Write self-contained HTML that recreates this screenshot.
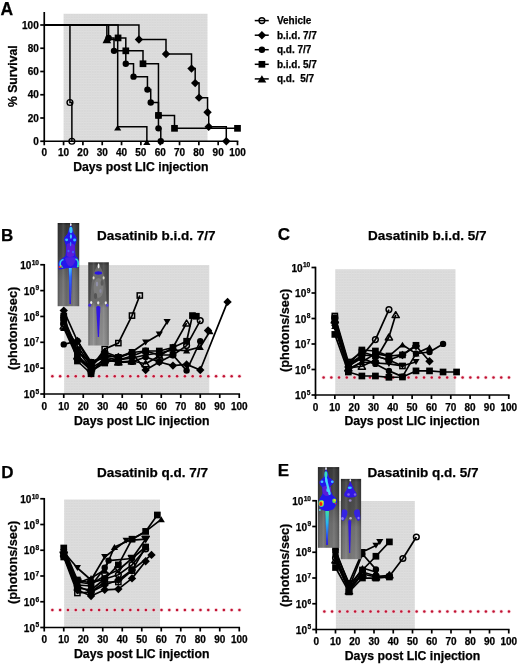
<!DOCTYPE html>
<html><head><meta charset="utf-8"><style>
html,body{margin:0;padding:0;background:#fff;}
svg{display:block;will-change:transform;}
text{font-family:"Liberation Sans", sans-serif;font-weight:bold;fill:#000;stroke:#000;stroke-width:0.25px;}
</style></head><body>
<svg width="520" height="666" viewBox="0 0 520 666">
<defs>
<pattern id="dotpat" width="2.6" height="2.6" patternUnits="userSpaceOnUse">
<rect width="2.6" height="2.6" fill="#d8d8d8"/><rect width="2.6" height="0.9" fill="#e0e0e0"/><rect width="0.9" height="2.6" fill="#dcdcdc"/>
</pattern>
</defs>
<rect x="63.575" y="13.75" width="143.925" height="127.5" fill="url(#dotpat)"/>
<text x="0.40" y="15.40" font-size="17.5" text-anchor="start" >A</text>
<text x="0" y="0" font-size="12.2" text-anchor="middle" transform="translate(17.40,76.20) rotate(-90)">% Survival</text>
<text x="140.88" y="171.20" font-size="12.25" text-anchor="middle" >Days post LIC injection</text>
<line x1="44.25" y1="12" x2="44.25" y2="142.05" stroke="#000" stroke-width="1.7"/>
<line x1="40.25" y1="141.25" x2="44.25" y2="141.25" stroke="#000" stroke-width="1.7"/>
<text x="38.75" y="144.85" font-size="10" text-anchor="end" >0</text>
<line x1="40.25" y1="118.00" x2="44.25" y2="118.00" stroke="#000" stroke-width="1.7"/>
<text x="38.75" y="121.60" font-size="10" text-anchor="end" >20</text>
<line x1="40.25" y1="94.75" x2="44.25" y2="94.75" stroke="#000" stroke-width="1.7"/>
<text x="38.75" y="98.35" font-size="10" text-anchor="end" >40</text>
<line x1="40.25" y1="71.50" x2="44.25" y2="71.50" stroke="#000" stroke-width="1.7"/>
<text x="38.75" y="75.10" font-size="10" text-anchor="end" >60</text>
<line x1="40.25" y1="48.25" x2="44.25" y2="48.25" stroke="#000" stroke-width="1.7"/>
<text x="38.75" y="51.85" font-size="10" text-anchor="end" >80</text>
<line x1="40.25" y1="25.00" x2="44.25" y2="25.00" stroke="#000" stroke-width="1.7"/>
<text x="38.75" y="28.60" font-size="10" text-anchor="end" >100</text>
<line x1="43.45" y1="141.25" x2="238.30" y2="141.25" stroke="#000" stroke-width="1.7"/>
<line x1="44.25" y1="141.25" x2="44.25" y2="145.25" stroke="#000" stroke-width="1.7"/>
<text x="44.25" y="156.00" font-size="10" text-anchor="middle" >0</text>
<line x1="63.58" y1="141.25" x2="63.58" y2="145.25" stroke="#000" stroke-width="1.7"/>
<text x="63.58" y="156.00" font-size="10" text-anchor="middle" >10</text>
<line x1="82.90" y1="141.25" x2="82.90" y2="145.25" stroke="#000" stroke-width="1.7"/>
<text x="82.90" y="156.00" font-size="10" text-anchor="middle" >20</text>
<line x1="102.22" y1="141.25" x2="102.22" y2="145.25" stroke="#000" stroke-width="1.7"/>
<text x="102.22" y="156.00" font-size="10" text-anchor="middle" >30</text>
<line x1="121.55" y1="141.25" x2="121.55" y2="145.25" stroke="#000" stroke-width="1.7"/>
<text x="121.55" y="156.00" font-size="10" text-anchor="middle" >40</text>
<line x1="140.88" y1="141.25" x2="140.88" y2="145.25" stroke="#000" stroke-width="1.7"/>
<text x="140.88" y="156.00" font-size="10" text-anchor="middle" >50</text>
<line x1="160.20" y1="141.25" x2="160.20" y2="145.25" stroke="#000" stroke-width="1.7"/>
<text x="160.20" y="156.00" font-size="10" text-anchor="middle" >60</text>
<line x1="179.53" y1="141.25" x2="179.53" y2="145.25" stroke="#000" stroke-width="1.7"/>
<text x="179.53" y="156.00" font-size="10" text-anchor="middle" >70</text>
<line x1="198.85" y1="141.25" x2="198.85" y2="145.25" stroke="#000" stroke-width="1.7"/>
<text x="198.85" y="156.00" font-size="10" text-anchor="middle" >80</text>
<line x1="218.18" y1="141.25" x2="218.18" y2="145.25" stroke="#000" stroke-width="1.7"/>
<text x="218.18" y="156.00" font-size="10" text-anchor="middle" >90</text>
<line x1="237.50" y1="141.25" x2="237.50" y2="145.25" stroke="#000" stroke-width="1.7"/>
<text x="237.50" y="156.00" font-size="10" text-anchor="middle" >100</text>
<path d="M44.25,25.00 H138.94 V39.53 H166.00 V54.06 H191.51 V68.59 H195.18 V83.12 H199.04 V97.66 H207.55 V112.19 H208.71 V126.72 H226.29 V141.25" fill="none" stroke="#000" stroke-width="1.5"/>
<path d="M44.25,25.00 H118.07 V37.92 H125.80 V50.83 H143.00 V63.75 H158.46 V115.42 H174.50 V128.33 H237.50" fill="none" stroke="#000" stroke-width="1.5"/>
<path d="M44.25,25.00 H108.60 V37.92 H114.01 V50.83 H125.80 V63.75 H133.53 V76.67 H147.45 V89.58 H150.73 V102.50 H158.46 V115.42 H158.46 V128.33 H160.78 V141.25" fill="none" stroke="#000" stroke-width="1.5"/>
<path d="M44.25,25.00 H106.86 V39.53 H117.69 V126.72 H146.87 V141.25" fill="none" stroke="#000" stroke-width="1.5"/>
<path d="M44.25,25.00 H69.95 V102.50 H71.88 V141.25" fill="none" stroke="#000" stroke-width="1.5"/>
<circle cx="69.95" cy="102.50" r="2.90" fill="none" stroke="#000" stroke-width="1.4"/>
<circle cx="71.88" cy="141.25" r="2.90" fill="none" stroke="#000" stroke-width="1.4"/>
<polygon points="138.94,35.33 143.14,39.53 138.94,43.73 134.74,39.53" fill="#000"/>
<polygon points="166.00,49.86 170.20,54.06 166.00,58.26 161.80,54.06" fill="#000"/>
<polygon points="191.51,64.39 195.71,68.59 191.51,72.79 187.31,68.59" fill="#000"/>
<polygon points="195.18,78.92 199.38,83.12 195.18,87.33 190.98,83.12" fill="#000"/>
<polygon points="199.04,93.46 203.24,97.66 199.04,101.86 194.84,97.66" fill="#000"/>
<polygon points="207.55,107.99 211.75,112.19 207.55,116.39 203.35,112.19" fill="#000"/>
<polygon points="208.71,122.52 212.91,126.72 208.71,130.92 204.51,126.72" fill="#000"/>
<polygon points="226.29,137.05 230.49,141.25 226.29,145.45 222.09,141.25" fill="#000"/>
<circle cx="108.60" cy="37.92" r="3.20" fill="#000"/>
<circle cx="114.01" cy="50.83" r="3.20" fill="#000"/>
<circle cx="125.80" cy="63.75" r="3.20" fill="#000"/>
<circle cx="133.53" cy="76.67" r="3.20" fill="#000"/>
<circle cx="147.45" cy="89.58" r="3.20" fill="#000"/>
<circle cx="150.73" cy="102.50" r="3.20" fill="#000"/>
<circle cx="158.46" cy="115.42" r="3.20" fill="#000"/>
<circle cx="158.46" cy="128.33" r="3.20" fill="#000"/>
<circle cx="160.78" cy="141.25" r="3.20" fill="#000"/>
<rect x="114.72" y="34.57" width="6.70" height="6.70" fill="#000"/>
<rect x="122.45" y="47.48" width="6.70" height="6.70" fill="#000"/>
<rect x="139.65" y="60.40" width="6.70" height="6.70" fill="#000"/>
<rect x="155.11" y="112.07" width="6.70" height="6.70" fill="#000"/>
<rect x="171.15" y="124.98" width="6.70" height="6.70" fill="#000"/>
<rect x="234.15" y="124.98" width="6.70" height="6.70" fill="#000"/>
<polygon points="106.86,34.73 111.16,43.13 102.56,43.13" fill="#000"/>
<polygon points="117.69,125.02 121.28,130.42 114.09,130.42" fill="#000"/>
<polygon points="146.87,139.55 150.47,144.95 143.27,144.95" fill="#000"/>
<line x1="254.75" y1="20.6" x2="268.75" y2="20.6" stroke="#000" stroke-width="1.5"/>
<circle cx="261.90" cy="20.60" r="2.90" fill="none" stroke="#000" stroke-width="1.4"/>
<text x="276.90" y="24.00" font-size="10" text-anchor="start" >Vehicle</text>
<line x1="254.75" y1="35.2" x2="268.75" y2="35.2" stroke="#000" stroke-width="1.5"/>
<polygon points="261.90,31.00 266.10,35.20 261.90,39.40 257.70,35.20" fill="#000"/>
<text x="276.90" y="38.60" font-size="10" text-anchor="start" >b.i.d. 7/7</text>
<line x1="254.75" y1="49.7" x2="268.75" y2="49.7" stroke="#000" stroke-width="1.5"/>
<circle cx="261.90" cy="49.70" r="3.20" fill="#000"/>
<text x="276.90" y="53.10" font-size="10" text-anchor="start" >q.d. 7/7</text>
<line x1="254.75" y1="64.3" x2="268.75" y2="64.3" stroke="#000" stroke-width="1.5"/>
<rect x="258.55" y="60.95" width="6.70" height="6.70" fill="#000"/>
<text x="276.90" y="67.70" font-size="10" text-anchor="start" >b.i.d. 5/7</text>
<line x1="254.75" y1="78.9" x2="268.75" y2="78.9" stroke="#000" stroke-width="1.5"/>
<polygon points="261.90,75.24 266.29,82.44 257.51,82.44" fill="#000"/>
<text x="276.90" y="82.30" font-size="10" text-anchor="start" >q.d.&#160;&#160;5/7</text>
<rect x="64.15" y="265" width="145.1" height="129" fill="url(#dotpat)"/>
<circle cx="52.35" cy="376.20" r="2.1" fill="#f6c0cc" opacity="0.6"/>
<circle cx="52.35" cy="376.20" r="1.25" fill="#c01232"/>
<circle cx="60.15" cy="376.20" r="2.1" fill="#f6c0cc" opacity="0.6"/>
<circle cx="60.15" cy="376.20" r="1.25" fill="#c01232"/>
<circle cx="67.94" cy="376.20" r="2.1" fill="#f6c0cc" opacity="0.6"/>
<circle cx="67.94" cy="376.20" r="1.25" fill="#c01232"/>
<circle cx="75.74" cy="376.20" r="2.1" fill="#f6c0cc" opacity="0.6"/>
<circle cx="75.74" cy="376.20" r="1.25" fill="#c01232"/>
<circle cx="83.53" cy="376.20" r="2.1" fill="#f6c0cc" opacity="0.6"/>
<circle cx="83.53" cy="376.20" r="1.25" fill="#c01232"/>
<circle cx="91.33" cy="376.20" r="2.1" fill="#f6c0cc" opacity="0.6"/>
<circle cx="91.33" cy="376.20" r="1.25" fill="#c01232"/>
<circle cx="99.12" cy="376.20" r="2.1" fill="#f6c0cc" opacity="0.6"/>
<circle cx="99.12" cy="376.20" r="1.25" fill="#c01232"/>
<circle cx="106.92" cy="376.20" r="2.1" fill="#f6c0cc" opacity="0.6"/>
<circle cx="106.92" cy="376.20" r="1.25" fill="#c01232"/>
<circle cx="114.72" cy="376.20" r="2.1" fill="#f6c0cc" opacity="0.6"/>
<circle cx="114.72" cy="376.20" r="1.25" fill="#c01232"/>
<circle cx="122.51" cy="376.20" r="2.1" fill="#f6c0cc" opacity="0.6"/>
<circle cx="122.51" cy="376.20" r="1.25" fill="#c01232"/>
<circle cx="130.31" cy="376.20" r="2.1" fill="#f6c0cc" opacity="0.6"/>
<circle cx="130.31" cy="376.20" r="1.25" fill="#c01232"/>
<circle cx="138.10" cy="376.20" r="2.1" fill="#f6c0cc" opacity="0.6"/>
<circle cx="138.10" cy="376.20" r="1.25" fill="#c01232"/>
<circle cx="145.90" cy="376.20" r="2.1" fill="#f6c0cc" opacity="0.6"/>
<circle cx="145.90" cy="376.20" r="1.25" fill="#c01232"/>
<circle cx="153.70" cy="376.20" r="2.1" fill="#f6c0cc" opacity="0.6"/>
<circle cx="153.70" cy="376.20" r="1.25" fill="#c01232"/>
<circle cx="161.49" cy="376.20" r="2.1" fill="#f6c0cc" opacity="0.6"/>
<circle cx="161.49" cy="376.20" r="1.25" fill="#c01232"/>
<circle cx="169.29" cy="376.20" r="2.1" fill="#f6c0cc" opacity="0.6"/>
<circle cx="169.29" cy="376.20" r="1.25" fill="#c01232"/>
<circle cx="177.08" cy="376.20" r="2.1" fill="#f6c0cc" opacity="0.6"/>
<circle cx="177.08" cy="376.20" r="1.25" fill="#c01232"/>
<circle cx="184.88" cy="376.20" r="2.1" fill="#f6c0cc" opacity="0.6"/>
<circle cx="184.88" cy="376.20" r="1.25" fill="#c01232"/>
<circle cx="192.67" cy="376.20" r="2.1" fill="#f6c0cc" opacity="0.6"/>
<circle cx="192.67" cy="376.20" r="1.25" fill="#c01232"/>
<circle cx="200.47" cy="376.20" r="2.1" fill="#f6c0cc" opacity="0.6"/>
<circle cx="200.47" cy="376.20" r="1.25" fill="#c01232"/>
<circle cx="208.27" cy="376.20" r="2.1" fill="#f6c0cc" opacity="0.6"/>
<circle cx="208.27" cy="376.20" r="1.25" fill="#c01232"/>
<circle cx="216.06" cy="376.20" r="2.1" fill="#f6c0cc" opacity="0.6"/>
<circle cx="216.06" cy="376.20" r="1.25" fill="#c01232"/>
<circle cx="223.86" cy="376.20" r="2.1" fill="#f6c0cc" opacity="0.6"/>
<circle cx="223.86" cy="376.20" r="1.25" fill="#c01232"/>
<circle cx="231.65" cy="376.20" r="2.1" fill="#f6c0cc" opacity="0.6"/>
<circle cx="231.65" cy="376.20" r="1.25" fill="#c01232"/>
<circle cx="239.45" cy="376.20" r="2.1" fill="#f6c0cc" opacity="0.6"/>
<circle cx="239.45" cy="376.20" r="1.25" fill="#c01232"/>
<line x1="44.25" y1="263.95" x2="44.25" y2="394.80" stroke="#000" stroke-width="1.7"/>
<line x1="40.25" y1="264.75" x2="44.25" y2="264.75" stroke="#000" stroke-width="1.7"/>
<text x="31.41" y="268.85" font-size="10.1" text-anchor="end">10</text>
<text x="39.05" y="264.55" font-size="6.6" text-anchor="end">10</text>
<line x1="40.25" y1="290.60" x2="44.25" y2="290.60" stroke="#000" stroke-width="1.7"/>
<text x="35.08" y="294.70" font-size="10.1" text-anchor="end">10</text>
<text x="39.05" y="290.40" font-size="6.6" text-anchor="end">9</text>
<line x1="40.25" y1="316.45" x2="44.25" y2="316.45" stroke="#000" stroke-width="1.7"/>
<text x="35.08" y="320.55" font-size="10.1" text-anchor="end">10</text>
<text x="39.05" y="316.25" font-size="6.6" text-anchor="end">8</text>
<line x1="40.25" y1="342.30" x2="44.25" y2="342.30" stroke="#000" stroke-width="1.7"/>
<text x="35.08" y="346.40" font-size="10.1" text-anchor="end">10</text>
<text x="39.05" y="342.10" font-size="6.6" text-anchor="end">7</text>
<line x1="40.25" y1="368.15" x2="44.25" y2="368.15" stroke="#000" stroke-width="1.7"/>
<text x="35.08" y="372.25" font-size="10.1" text-anchor="end">10</text>
<text x="39.05" y="367.95" font-size="6.6" text-anchor="end">6</text>
<line x1="40.25" y1="394.00" x2="44.25" y2="394.00" stroke="#000" stroke-width="1.7"/>
<text x="35.08" y="398.10" font-size="10.1" text-anchor="end">10</text>
<text x="39.05" y="393.80" font-size="6.6" text-anchor="end">5</text>
<line x1="43.45" y1="394.00" x2="240.05" y2="394.00" stroke="#000" stroke-width="1.7"/>
<line x1="44.25" y1="394.00" x2="44.25" y2="398.00" stroke="#000" stroke-width="1.7"/>
<text x="44.25" y="409.80" font-size="10" text-anchor="middle" >0</text>
<line x1="63.75" y1="394.00" x2="63.75" y2="398.00" stroke="#000" stroke-width="1.7"/>
<text x="63.75" y="409.80" font-size="10" text-anchor="middle" >10</text>
<line x1="83.25" y1="394.00" x2="83.25" y2="398.00" stroke="#000" stroke-width="1.7"/>
<text x="83.25" y="409.80" font-size="10" text-anchor="middle" >20</text>
<line x1="102.75" y1="394.00" x2="102.75" y2="398.00" stroke="#000" stroke-width="1.7"/>
<text x="102.75" y="409.80" font-size="10" text-anchor="middle" >30</text>
<line x1="122.25" y1="394.00" x2="122.25" y2="398.00" stroke="#000" stroke-width="1.7"/>
<text x="122.25" y="409.80" font-size="10" text-anchor="middle" >40</text>
<line x1="141.75" y1="394.00" x2="141.75" y2="398.00" stroke="#000" stroke-width="1.7"/>
<text x="141.75" y="409.80" font-size="10" text-anchor="middle" >50</text>
<line x1="161.25" y1="394.00" x2="161.25" y2="398.00" stroke="#000" stroke-width="1.7"/>
<text x="161.25" y="409.80" font-size="10" text-anchor="middle" >60</text>
<line x1="180.75" y1="394.00" x2="180.75" y2="398.00" stroke="#000" stroke-width="1.7"/>
<text x="180.75" y="409.80" font-size="10" text-anchor="middle" >70</text>
<line x1="200.25" y1="394.00" x2="200.25" y2="398.00" stroke="#000" stroke-width="1.7"/>
<text x="200.25" y="409.80" font-size="10" text-anchor="middle" >80</text>
<line x1="219.75" y1="394.00" x2="219.75" y2="398.00" stroke="#000" stroke-width="1.7"/>
<text x="219.75" y="409.80" font-size="10" text-anchor="middle" >90</text>
<line x1="239.25" y1="394.00" x2="239.25" y2="398.00" stroke="#000" stroke-width="1.7"/>
<text x="239.25" y="409.80" font-size="10" text-anchor="middle" >100</text>
<text x="1.00" y="240.60" font-size="17" text-anchor="start" >B</text>
<text x="97.00" y="239.80" font-size="13.5" text-anchor="start" >Dasatinib b.i.d. 7/7</text>
<text x="0" y="0" font-size="12.7" text-anchor="middle" transform="translate(16.50,328.40) rotate(-90)">(photons/sec)</text>
<text x="141.75" y="424.50" font-size="12.25" text-anchor="middle" >Days post LIC injection</text>
<path d="M63.75,310.60 L77.40,341.00 L91.05,365.00 L104.70,352.00 L118.35,357.00 L132.00,353.00 L145.65,370.00 L159.30,362.00 L172.95,365.60 L186.60,364.40 L200.25,370.00 L227.55,301.90" fill="none" stroke="#000" stroke-width="1.7" stroke-linejoin="round"/>
<path d="M63.75,318.00 L77.40,350.00 L91.05,368.00 L104.70,349.00 L118.35,343.10 L132.00,315.60 L139.80,295.50" fill="none" stroke="#000" stroke-width="1.7" stroke-linejoin="round"/>
<path d="M63.75,320.00 L77.40,352.00 L91.05,362.00 L104.70,356.00 L118.35,357.00 L132.00,352.00 L145.65,342.50 L159.30,334.40 L167.10,321.90" fill="none" stroke="#000" stroke-width="1.7" stroke-linejoin="round"/>
<path d="M63.75,316.00 L77.40,361.00 L91.05,373.75 L104.70,357.00 L118.35,360.00 L132.00,356.00 L145.65,351.00 L159.30,351.00 L172.95,347.50 L186.60,341.25 L192.45,315.60 L196.35,316.25" fill="none" stroke="#000" stroke-width="1.7" stroke-linejoin="round"/>
<path d="M63.75,324.00 L77.40,346.00 L91.05,366.00 L104.70,354.00 L118.35,358.00 L132.00,352.50 L145.65,351.00 L159.30,355.00 L172.95,355.00 L186.60,345.60 L200.25,320.60" fill="none" stroke="#000" stroke-width="1.7" stroke-linejoin="round"/>
<path d="M63.75,326.00 L77.40,356.00 L91.05,368.00 L104.70,360.00 L118.35,362.00 L132.00,361.00 L145.65,363.75 L159.30,356.00 L172.95,347.50 L186.60,323.10" fill="none" stroke="#000" stroke-width="1.7" stroke-linejoin="round"/>
<path d="M63.75,344.40 L77.40,341.00 L91.05,362.00 L104.70,358.00 L118.35,362.50 L132.00,361.90 L145.65,357.00 L159.30,361.90 L172.95,355.00 L186.60,370.60 L200.25,341.25" fill="none" stroke="#000" stroke-width="1.7" stroke-linejoin="round"/>
<path d="M63.75,328.00 L77.40,358.00 L91.05,370.00 L104.70,362.00 L118.35,360.00 L132.00,358.00 L145.65,355.00 L159.30,353.00 L172.95,350.00 L186.60,350.60 L200.25,347.00 L210.00,331.25" fill="none" stroke="#000" stroke-width="1.7" stroke-linejoin="round"/>
<path d="M63.75,322.00 L77.40,355.00 L91.05,371.00 L104.70,363.00 L118.35,358.00" fill="none" stroke="#000" stroke-width="1.7" stroke-linejoin="round"/>
<path d="M208.05,330.50" fill="none" stroke="#000" stroke-width="1.7" stroke-linejoin="round"/>
<polygon points="63.75,306.40 67.95,310.60 63.75,314.80 59.55,310.60" fill="#000"/>
<polygon points="77.40,336.80 81.60,341.00 77.40,345.20 73.20,341.00" fill="#000"/>
<polygon points="91.05,360.80 95.25,365.00 91.05,369.20 86.85,365.00" fill="#000"/>
<polygon points="104.70,347.80 108.90,352.00 104.70,356.20 100.50,352.00" fill="#000"/>
<polygon points="118.35,352.80 122.55,357.00 118.35,361.20 114.15,357.00" fill="#000"/>
<polygon points="132.00,348.80 136.20,353.00 132.00,357.20 127.80,353.00" fill="#000"/>
<polygon points="145.65,365.80 149.85,370.00 145.65,374.20 141.45,370.00" fill="#000"/>
<polygon points="159.30,357.80 163.50,362.00 159.30,366.20 155.10,362.00" fill="#000"/>
<polygon points="172.95,361.40 177.15,365.60 172.95,369.80 168.75,365.60" fill="#000"/>
<polygon points="186.60,360.20 190.80,364.40 186.60,368.60 182.40,364.40" fill="#000"/>
<polygon points="200.25,365.80 204.45,370.00 200.25,374.20 196.05,370.00" fill="#000"/>
<polygon points="227.55,297.70 231.75,301.90 227.55,306.10 223.35,301.90" fill="#000"/>
<rect x="61.15" y="315.40" width="5.20" height="5.20" fill="none" stroke="#000" stroke-width="1.5"/>
<rect x="74.80" y="347.40" width="5.20" height="5.20" fill="none" stroke="#000" stroke-width="1.5"/>
<rect x="88.45" y="365.40" width="5.20" height="5.20" fill="none" stroke="#000" stroke-width="1.5"/>
<rect x="102.10" y="346.40" width="5.20" height="5.20" fill="none" stroke="#000" stroke-width="1.5"/>
<rect x="115.75" y="340.50" width="5.20" height="5.20" fill="none" stroke="#000" stroke-width="1.5"/>
<rect x="129.40" y="313.00" width="5.20" height="5.20" fill="none" stroke="#000" stroke-width="1.5"/>
<rect x="137.20" y="292.90" width="5.20" height="5.20" fill="none" stroke="#000" stroke-width="1.5"/>
<polygon points="63.75,323.00 67.35,317.10 60.15,317.10" fill="#000"/>
<polygon points="77.40,355.00 81.00,349.10 73.80,349.10" fill="#000"/>
<polygon points="91.05,365.00 94.65,359.10 87.45,359.10" fill="#000"/>
<polygon points="104.70,359.00 108.30,353.10 101.10,353.10" fill="#000"/>
<polygon points="118.35,360.00 121.95,354.10 114.75,354.10" fill="#000"/>
<polygon points="132.00,355.00 135.60,349.10 128.40,349.10" fill="#000"/>
<polygon points="145.65,345.50 149.25,339.60 142.05,339.60" fill="#000"/>
<polygon points="159.30,337.40 162.90,331.50 155.70,331.50" fill="#000"/>
<polygon points="167.10,324.90 170.70,319.00 163.50,319.00" fill="#000"/>
<rect x="60.40" y="312.65" width="6.70" height="6.70" fill="#000"/>
<rect x="74.05" y="357.65" width="6.70" height="6.70" fill="#000"/>
<rect x="87.70" y="370.40" width="6.70" height="6.70" fill="#000"/>
<rect x="101.35" y="353.65" width="6.70" height="6.70" fill="#000"/>
<rect x="115.00" y="356.65" width="6.70" height="6.70" fill="#000"/>
<rect x="128.65" y="352.65" width="6.70" height="6.70" fill="#000"/>
<rect x="142.30" y="347.65" width="6.70" height="6.70" fill="#000"/>
<rect x="155.95" y="347.65" width="6.70" height="6.70" fill="#000"/>
<rect x="169.60" y="344.15" width="6.70" height="6.70" fill="#000"/>
<rect x="183.25" y="337.90" width="6.70" height="6.70" fill="#000"/>
<rect x="189.10" y="312.25" width="6.70" height="6.70" fill="#000"/>
<rect x="193.00" y="312.90" width="6.70" height="6.70" fill="#000"/>
<circle cx="63.75" cy="324.00" r="2.85" fill="none" stroke="#000" stroke-width="1.5"/>
<circle cx="77.40" cy="346.00" r="2.85" fill="none" stroke="#000" stroke-width="1.5"/>
<circle cx="91.05" cy="366.00" r="2.85" fill="none" stroke="#000" stroke-width="1.5"/>
<circle cx="104.70" cy="354.00" r="2.85" fill="none" stroke="#000" stroke-width="1.5"/>
<circle cx="118.35" cy="358.00" r="2.85" fill="none" stroke="#000" stroke-width="1.5"/>
<circle cx="132.00" cy="352.50" r="2.85" fill="none" stroke="#000" stroke-width="1.5"/>
<circle cx="145.65" cy="351.00" r="2.85" fill="none" stroke="#000" stroke-width="1.5"/>
<circle cx="159.30" cy="355.00" r="2.85" fill="none" stroke="#000" stroke-width="1.5"/>
<circle cx="172.95" cy="355.00" r="2.85" fill="none" stroke="#000" stroke-width="1.5"/>
<circle cx="186.60" cy="345.60" r="2.85" fill="none" stroke="#000" stroke-width="1.5"/>
<circle cx="200.25" cy="320.60" r="2.85" fill="none" stroke="#000" stroke-width="1.5"/>
<polygon points="63.75,323.00 67.35,328.90 60.15,328.90" fill="none" stroke="#000" stroke-width="1.5" stroke-linejoin="round"/>
<polygon points="77.40,353.00 81.00,358.90 73.80,358.90" fill="none" stroke="#000" stroke-width="1.5" stroke-linejoin="round"/>
<polygon points="91.05,365.00 94.65,370.90 87.45,370.90" fill="none" stroke="#000" stroke-width="1.5" stroke-linejoin="round"/>
<polygon points="104.70,357.00 108.30,362.90 101.10,362.90" fill="none" stroke="#000" stroke-width="1.5" stroke-linejoin="round"/>
<polygon points="118.35,359.00 121.95,364.90 114.75,364.90" fill="none" stroke="#000" stroke-width="1.5" stroke-linejoin="round"/>
<polygon points="132.00,358.00 135.60,363.90 128.40,363.90" fill="none" stroke="#000" stroke-width="1.5" stroke-linejoin="round"/>
<polygon points="145.65,360.75 149.25,366.65 142.05,366.65" fill="none" stroke="#000" stroke-width="1.5" stroke-linejoin="round"/>
<polygon points="159.30,353.00 162.90,358.90 155.70,358.90" fill="none" stroke="#000" stroke-width="1.5" stroke-linejoin="round"/>
<polygon points="172.95,344.50 176.55,350.40 169.35,350.40" fill="none" stroke="#000" stroke-width="1.5" stroke-linejoin="round"/>
<polygon points="186.60,320.10 190.20,326.00 183.00,326.00" fill="none" stroke="#000" stroke-width="1.5" stroke-linejoin="round"/>
<circle cx="63.75" cy="344.40" r="3.20" fill="#000"/>
<circle cx="77.40" cy="341.00" r="3.20" fill="#000"/>
<circle cx="91.05" cy="362.00" r="3.20" fill="#000"/>
<circle cx="104.70" cy="358.00" r="3.20" fill="#000"/>
<circle cx="118.35" cy="362.50" r="3.20" fill="#000"/>
<circle cx="132.00" cy="361.90" r="3.20" fill="#000"/>
<circle cx="145.65" cy="357.00" r="3.20" fill="#000"/>
<circle cx="159.30" cy="361.90" r="3.20" fill="#000"/>
<circle cx="172.95" cy="355.00" r="3.20" fill="#000"/>
<circle cx="186.60" cy="370.60" r="3.20" fill="#000"/>
<circle cx="200.25" cy="341.25" r="3.20" fill="#000"/>
<polygon points="63.75,325.00 67.35,330.90 60.15,330.90" fill="#000"/>
<polygon points="77.40,355.00 81.00,360.90 73.80,360.90" fill="#000"/>
<polygon points="91.05,367.00 94.65,372.90 87.45,372.90" fill="#000"/>
<polygon points="104.70,359.00 108.30,364.90 101.10,364.90" fill="#000"/>
<polygon points="118.35,357.00 121.95,362.90 114.75,362.90" fill="#000"/>
<polygon points="132.00,355.00 135.60,360.90 128.40,360.90" fill="#000"/>
<polygon points="145.65,352.00 149.25,357.90 142.05,357.90" fill="#000"/>
<polygon points="159.30,350.00 162.90,355.90 155.70,355.90" fill="#000"/>
<polygon points="172.95,347.00 176.55,352.90 169.35,352.90" fill="#000"/>
<polygon points="186.60,347.60 190.20,353.50 183.00,353.50" fill="#000"/>
<polygon points="200.25,344.00 203.85,349.90 196.65,349.90" fill="#000"/>
<polygon points="210.00,328.25 213.60,334.15 206.40,334.15" fill="#000"/>
<rect x="60.40" y="318.65" width="6.70" height="6.70" fill="#000"/>
<rect x="74.05" y="351.65" width="6.70" height="6.70" fill="#000"/>
<rect x="87.70" y="367.65" width="6.70" height="6.70" fill="#000"/>
<rect x="101.35" y="359.65" width="6.70" height="6.70" fill="#000"/>
<rect x="115.00" y="354.65" width="6.70" height="6.70" fill="#000"/>
<polygon points="208.05,326.30 212.25,330.50 208.05,334.70 203.85,330.50" fill="#000"/>
<rect x="335.22499999999997" y="269.25" width="120.27500000000003" height="125.75" fill="url(#dotpat)"/>
<circle cx="323.60" cy="377.50" r="2.1" fill="#f6c0cc" opacity="0.6"/>
<circle cx="323.60" cy="377.50" r="1.25" fill="#c01232"/>
<circle cx="331.32" cy="377.50" r="2.1" fill="#f6c0cc" opacity="0.6"/>
<circle cx="331.32" cy="377.50" r="1.25" fill="#c01232"/>
<circle cx="339.05" cy="377.50" r="2.1" fill="#f6c0cc" opacity="0.6"/>
<circle cx="339.05" cy="377.50" r="1.25" fill="#c01232"/>
<circle cx="346.77" cy="377.50" r="2.1" fill="#f6c0cc" opacity="0.6"/>
<circle cx="346.77" cy="377.50" r="1.25" fill="#c01232"/>
<circle cx="354.49" cy="377.50" r="2.1" fill="#f6c0cc" opacity="0.6"/>
<circle cx="354.49" cy="377.50" r="1.25" fill="#c01232"/>
<circle cx="362.21" cy="377.50" r="2.1" fill="#f6c0cc" opacity="0.6"/>
<circle cx="362.21" cy="377.50" r="1.25" fill="#c01232"/>
<circle cx="369.94" cy="377.50" r="2.1" fill="#f6c0cc" opacity="0.6"/>
<circle cx="369.94" cy="377.50" r="1.25" fill="#c01232"/>
<circle cx="377.66" cy="377.50" r="2.1" fill="#f6c0cc" opacity="0.6"/>
<circle cx="377.66" cy="377.50" r="1.25" fill="#c01232"/>
<circle cx="385.38" cy="377.50" r="2.1" fill="#f6c0cc" opacity="0.6"/>
<circle cx="385.38" cy="377.50" r="1.25" fill="#c01232"/>
<circle cx="393.11" cy="377.50" r="2.1" fill="#f6c0cc" opacity="0.6"/>
<circle cx="393.11" cy="377.50" r="1.25" fill="#c01232"/>
<circle cx="400.83" cy="377.50" r="2.1" fill="#f6c0cc" opacity="0.6"/>
<circle cx="400.83" cy="377.50" r="1.25" fill="#c01232"/>
<circle cx="408.55" cy="377.50" r="2.1" fill="#f6c0cc" opacity="0.6"/>
<circle cx="408.55" cy="377.50" r="1.25" fill="#c01232"/>
<circle cx="416.28" cy="377.50" r="2.1" fill="#f6c0cc" opacity="0.6"/>
<circle cx="416.28" cy="377.50" r="1.25" fill="#c01232"/>
<circle cx="424.00" cy="377.50" r="2.1" fill="#f6c0cc" opacity="0.6"/>
<circle cx="424.00" cy="377.50" r="1.25" fill="#c01232"/>
<circle cx="431.72" cy="377.50" r="2.1" fill="#f6c0cc" opacity="0.6"/>
<circle cx="431.72" cy="377.50" r="1.25" fill="#c01232"/>
<circle cx="439.44" cy="377.50" r="2.1" fill="#f6c0cc" opacity="0.6"/>
<circle cx="439.44" cy="377.50" r="1.25" fill="#c01232"/>
<circle cx="447.17" cy="377.50" r="2.1" fill="#f6c0cc" opacity="0.6"/>
<circle cx="447.17" cy="377.50" r="1.25" fill="#c01232"/>
<circle cx="454.89" cy="377.50" r="2.1" fill="#f6c0cc" opacity="0.6"/>
<circle cx="454.89" cy="377.50" r="1.25" fill="#c01232"/>
<circle cx="462.61" cy="377.50" r="2.1" fill="#f6c0cc" opacity="0.6"/>
<circle cx="462.61" cy="377.50" r="1.25" fill="#c01232"/>
<circle cx="470.34" cy="377.50" r="2.1" fill="#f6c0cc" opacity="0.6"/>
<circle cx="470.34" cy="377.50" r="1.25" fill="#c01232"/>
<circle cx="478.06" cy="377.50" r="2.1" fill="#f6c0cc" opacity="0.6"/>
<circle cx="478.06" cy="377.50" r="1.25" fill="#c01232"/>
<circle cx="485.78" cy="377.50" r="2.1" fill="#f6c0cc" opacity="0.6"/>
<circle cx="485.78" cy="377.50" r="1.25" fill="#c01232"/>
<circle cx="493.50" cy="377.50" r="2.1" fill="#f6c0cc" opacity="0.6"/>
<circle cx="493.50" cy="377.50" r="1.25" fill="#c01232"/>
<circle cx="501.23" cy="377.50" r="2.1" fill="#f6c0cc" opacity="0.6"/>
<circle cx="501.23" cy="377.50" r="1.25" fill="#c01232"/>
<circle cx="508.95" cy="377.50" r="2.1" fill="#f6c0cc" opacity="0.6"/>
<circle cx="508.95" cy="377.50" r="1.25" fill="#c01232"/>
<line x1="315.50" y1="266.70" x2="315.50" y2="395.80" stroke="#000" stroke-width="1.7"/>
<line x1="311.50" y1="267.50" x2="315.50" y2="267.50" stroke="#000" stroke-width="1.7"/>
<text x="302.66" y="271.60" font-size="10.1" text-anchor="end">10</text>
<text x="310.30" y="267.30" font-size="6.6" text-anchor="end">10</text>
<line x1="311.50" y1="293.00" x2="315.50" y2="293.00" stroke="#000" stroke-width="1.7"/>
<text x="306.33" y="297.10" font-size="10.1" text-anchor="end">10</text>
<text x="310.30" y="292.80" font-size="6.6" text-anchor="end">9</text>
<line x1="311.50" y1="318.50" x2="315.50" y2="318.50" stroke="#000" stroke-width="1.7"/>
<text x="306.33" y="322.60" font-size="10.1" text-anchor="end">10</text>
<text x="310.30" y="318.30" font-size="6.6" text-anchor="end">8</text>
<line x1="311.50" y1="344.00" x2="315.50" y2="344.00" stroke="#000" stroke-width="1.7"/>
<text x="306.33" y="348.10" font-size="10.1" text-anchor="end">10</text>
<text x="310.30" y="343.80" font-size="6.6" text-anchor="end">7</text>
<line x1="311.50" y1="369.50" x2="315.50" y2="369.50" stroke="#000" stroke-width="1.7"/>
<text x="306.33" y="373.60" font-size="10.1" text-anchor="end">10</text>
<text x="310.30" y="369.30" font-size="6.6" text-anchor="end">6</text>
<line x1="311.50" y1="395.00" x2="315.50" y2="395.00" stroke="#000" stroke-width="1.7"/>
<text x="306.33" y="399.10" font-size="10.1" text-anchor="end">10</text>
<text x="310.30" y="394.80" font-size="6.6" text-anchor="end">5</text>
<line x1="314.70" y1="395.00" x2="509.55" y2="395.00" stroke="#000" stroke-width="1.7"/>
<line x1="315.50" y1="395.00" x2="315.50" y2="399.00" stroke="#000" stroke-width="1.7"/>
<text x="315.50" y="410.80" font-size="10" text-anchor="middle" >0</text>
<line x1="334.82" y1="395.00" x2="334.82" y2="399.00" stroke="#000" stroke-width="1.7"/>
<text x="334.82" y="410.80" font-size="10" text-anchor="middle" >10</text>
<line x1="354.15" y1="395.00" x2="354.15" y2="399.00" stroke="#000" stroke-width="1.7"/>
<text x="354.15" y="410.80" font-size="10" text-anchor="middle" >20</text>
<line x1="373.48" y1="395.00" x2="373.48" y2="399.00" stroke="#000" stroke-width="1.7"/>
<text x="373.48" y="410.80" font-size="10" text-anchor="middle" >30</text>
<line x1="392.80" y1="395.00" x2="392.80" y2="399.00" stroke="#000" stroke-width="1.7"/>
<text x="392.80" y="410.80" font-size="10" text-anchor="middle" >40</text>
<line x1="412.12" y1="395.00" x2="412.12" y2="399.00" stroke="#000" stroke-width="1.7"/>
<text x="412.12" y="410.80" font-size="10" text-anchor="middle" >50</text>
<line x1="431.45" y1="395.00" x2="431.45" y2="399.00" stroke="#000" stroke-width="1.7"/>
<text x="431.45" y="410.80" font-size="10" text-anchor="middle" >60</text>
<line x1="450.77" y1="395.00" x2="450.77" y2="399.00" stroke="#000" stroke-width="1.7"/>
<text x="450.77" y="410.80" font-size="10" text-anchor="middle" >70</text>
<line x1="470.10" y1="395.00" x2="470.10" y2="399.00" stroke="#000" stroke-width="1.7"/>
<text x="470.10" y="410.80" font-size="10" text-anchor="middle" >80</text>
<line x1="489.43" y1="395.00" x2="489.43" y2="399.00" stroke="#000" stroke-width="1.7"/>
<text x="489.43" y="410.80" font-size="10" text-anchor="middle" >90</text>
<line x1="508.75" y1="395.00" x2="508.75" y2="399.00" stroke="#000" stroke-width="1.7"/>
<text x="508.75" y="410.80" font-size="10" text-anchor="middle" >100</text>
<text x="277.80" y="240.20" font-size="17" text-anchor="start" >C</text>
<text x="368.00" y="239.80" font-size="13.5" text-anchor="start" >Dasatinib b.i.d. 5/7</text>
<text x="0" y="0" font-size="12.7" text-anchor="middle" transform="translate(289.10,330.40) rotate(-90)">(photons/sec)</text>
<text x="412.12" y="424.50" font-size="12.25" text-anchor="middle" >Days post LIC injection</text>
<path d="M334.82,316.00 L348.35,362.00 L361.88,352.00 L375.41,356.00 L388.94,360.00 L402.46,366.00" fill="none" stroke="#000" stroke-width="1.7" stroke-linejoin="round"/>
<path d="M334.82,318.00 L348.35,364.00 L361.88,356.00 L375.41,339.60 L388.94,309.60" fill="none" stroke="#000" stroke-width="1.7" stroke-linejoin="round"/>
<path d="M334.82,320.00 L348.35,368.00 L361.88,366.25 L375.41,360.00 L388.94,337.00 L395.70,314.70" fill="none" stroke="#000" stroke-width="1.7" stroke-linejoin="round"/>
<path d="M334.82,334.40 L348.35,372.00 L361.88,376.00 L375.41,376.00 L388.94,377.30 L402.46,377.00 L415.99,370.90 L429.52,370.90 L443.05,372.00 L456.57,372.00" fill="none" stroke="#000" stroke-width="1.7" stroke-linejoin="round"/>
<path d="M334.82,324.00 L348.35,366.00 L361.88,358.00 L375.41,363.90 L388.94,370.90 L402.46,376.60 L415.99,353.60 L429.52,352.00 L443.05,343.90" fill="none" stroke="#000" stroke-width="1.7" stroke-linejoin="round"/>
<path d="M334.82,326.00 L348.35,370.00 L361.88,362.00 L375.41,353.60 L388.94,356.20 L402.46,344.70 L415.99,353.60 L429.52,347.30" fill="none" stroke="#000" stroke-width="1.7" stroke-linejoin="round"/>
<path d="M334.82,328.00 L348.35,369.00 L361.88,362.00 L375.41,363.00 L388.94,363.90 L402.46,365.80 L415.99,362.00" fill="none" stroke="#000" stroke-width="1.7" stroke-linejoin="round"/>
<path d="M334.82,322.00 L348.35,367.00 L361.88,355.00 L375.41,356.00 L388.94,360.00 L402.46,355.00 L415.99,346.00 L429.52,361.30" fill="none" stroke="#000" stroke-width="1.7" stroke-linejoin="round"/>
<path d="M334.82,318.00 L348.35,365.00 L361.88,350.00 L375.41,351.00 L388.94,356.00 L402.46,354.90 L415.99,345.30" fill="none" stroke="#000" stroke-width="1.7" stroke-linejoin="round"/>
<rect x="332.22" y="313.40" width="5.20" height="5.20" fill="none" stroke="#000" stroke-width="1.5"/>
<rect x="345.75" y="359.40" width="5.20" height="5.20" fill="none" stroke="#000" stroke-width="1.5"/>
<rect x="359.28" y="349.40" width="5.20" height="5.20" fill="none" stroke="#000" stroke-width="1.5"/>
<rect x="372.81" y="353.40" width="5.20" height="5.20" fill="none" stroke="#000" stroke-width="1.5"/>
<rect x="386.33" y="357.40" width="5.20" height="5.20" fill="none" stroke="#000" stroke-width="1.5"/>
<rect x="399.86" y="363.40" width="5.20" height="5.20" fill="none" stroke="#000" stroke-width="1.5"/>
<circle cx="334.82" cy="318.00" r="2.85" fill="none" stroke="#000" stroke-width="1.5"/>
<circle cx="348.35" cy="364.00" r="2.85" fill="none" stroke="#000" stroke-width="1.5"/>
<circle cx="361.88" cy="356.00" r="2.85" fill="none" stroke="#000" stroke-width="1.5"/>
<circle cx="375.41" cy="339.60" r="2.85" fill="none" stroke="#000" stroke-width="1.5"/>
<circle cx="388.94" cy="309.60" r="2.85" fill="none" stroke="#000" stroke-width="1.5"/>
<polygon points="334.82,317.00 338.43,322.90 331.22,322.90" fill="none" stroke="#000" stroke-width="1.5" stroke-linejoin="round"/>
<polygon points="348.35,365.00 351.95,370.90 344.75,370.90" fill="none" stroke="#000" stroke-width="1.5" stroke-linejoin="round"/>
<polygon points="361.88,363.25 365.48,369.15 358.28,369.15" fill="none" stroke="#000" stroke-width="1.5" stroke-linejoin="round"/>
<polygon points="375.41,357.00 379.01,362.90 371.81,362.90" fill="none" stroke="#000" stroke-width="1.5" stroke-linejoin="round"/>
<polygon points="388.94,334.00 392.54,339.90 385.33,339.90" fill="none" stroke="#000" stroke-width="1.5" stroke-linejoin="round"/>
<polygon points="395.70,311.70 399.30,317.60 392.10,317.60" fill="none" stroke="#000" stroke-width="1.5" stroke-linejoin="round"/>
<rect x="331.47" y="331.05" width="6.70" height="6.70" fill="#000"/>
<rect x="345.00" y="368.65" width="6.70" height="6.70" fill="#000"/>
<rect x="358.53" y="372.65" width="6.70" height="6.70" fill="#000"/>
<rect x="372.06" y="372.65" width="6.70" height="6.70" fill="#000"/>
<rect x="385.58" y="373.95" width="6.70" height="6.70" fill="#000"/>
<rect x="399.11" y="373.65" width="6.70" height="6.70" fill="#000"/>
<rect x="412.64" y="367.55" width="6.70" height="6.70" fill="#000"/>
<rect x="426.17" y="367.55" width="6.70" height="6.70" fill="#000"/>
<rect x="439.69" y="368.65" width="6.70" height="6.70" fill="#000"/>
<rect x="453.22" y="368.65" width="6.70" height="6.70" fill="#000"/>
<circle cx="334.82" cy="324.00" r="3.20" fill="#000"/>
<circle cx="348.35" cy="366.00" r="3.20" fill="#000"/>
<circle cx="361.88" cy="358.00" r="3.20" fill="#000"/>
<circle cx="375.41" cy="363.90" r="3.20" fill="#000"/>
<circle cx="388.94" cy="370.90" r="3.20" fill="#000"/>
<circle cx="402.46" cy="376.60" r="3.20" fill="#000"/>
<circle cx="415.99" cy="353.60" r="3.20" fill="#000"/>
<circle cx="429.52" cy="352.00" r="3.20" fill="#000"/>
<circle cx="443.05" cy="343.90" r="3.20" fill="#000"/>
<polygon points="334.82,323.00 338.43,328.90 331.22,328.90" fill="#000"/>
<polygon points="348.35,367.00 351.95,372.90 344.75,372.90" fill="#000"/>
<polygon points="361.88,359.00 365.48,364.90 358.28,364.90" fill="#000"/>
<polygon points="375.41,350.60 379.01,356.50 371.81,356.50" fill="#000"/>
<polygon points="388.94,353.20 392.54,359.10 385.33,359.10" fill="#000"/>
<polygon points="402.46,341.70 406.06,347.60 398.86,347.60" fill="#000"/>
<polygon points="415.99,350.60 419.59,356.50 412.39,356.50" fill="#000"/>
<polygon points="429.52,344.30 433.12,350.20 425.92,350.20" fill="#000"/>
<polygon points="334.82,331.00 338.43,325.10 331.22,325.10" fill="#000"/>
<polygon points="348.35,372.00 351.95,366.10 344.75,366.10" fill="#000"/>
<polygon points="361.88,365.00 365.48,359.10 358.28,359.10" fill="#000"/>
<polygon points="375.41,366.00 379.01,360.10 371.81,360.10" fill="#000"/>
<polygon points="388.94,366.90 392.54,361.00 385.33,361.00" fill="#000"/>
<polygon points="402.46,368.80 406.06,362.90 398.86,362.90" fill="#000"/>
<polygon points="415.99,365.00 419.59,359.10 412.39,359.10" fill="#000"/>
<polygon points="334.82,317.80 339.02,322.00 334.82,326.20 330.62,322.00" fill="#000"/>
<polygon points="348.35,362.80 352.55,367.00 348.35,371.20 344.15,367.00" fill="#000"/>
<polygon points="361.88,350.80 366.08,355.00 361.88,359.20 357.68,355.00" fill="#000"/>
<polygon points="375.41,351.80 379.61,356.00 375.41,360.20 371.21,356.00" fill="#000"/>
<polygon points="388.94,355.80 393.13,360.00 388.94,364.20 384.74,360.00" fill="#000"/>
<polygon points="402.46,350.80 406.66,355.00 402.46,359.20 398.26,355.00" fill="#000"/>
<polygon points="415.99,341.80 420.19,346.00 415.99,350.20 411.79,346.00" fill="#000"/>
<polygon points="429.52,357.10 433.72,361.30 429.52,365.50 425.32,361.30" fill="#000"/>
<rect x="331.47" y="314.65" width="6.70" height="6.70" fill="#000"/>
<rect x="345.00" y="361.65" width="6.70" height="6.70" fill="#000"/>
<rect x="358.53" y="346.65" width="6.70" height="6.70" fill="#000"/>
<rect x="372.06" y="347.65" width="6.70" height="6.70" fill="#000"/>
<rect x="385.58" y="352.65" width="6.70" height="6.70" fill="#000"/>
<rect x="399.11" y="351.55" width="6.70" height="6.70" fill="#000"/>
<rect x="412.64" y="341.95" width="6.70" height="6.70" fill="#000"/>
<rect x="64.15" y="499.5" width="95.85" height="128.0" fill="url(#dotpat)"/>
<circle cx="52.35" cy="610.00" r="2.1" fill="#f6c0cc" opacity="0.6"/>
<circle cx="52.35" cy="610.00" r="1.25" fill="#c01232"/>
<circle cx="60.15" cy="610.00" r="2.1" fill="#f6c0cc" opacity="0.6"/>
<circle cx="60.15" cy="610.00" r="1.25" fill="#c01232"/>
<circle cx="67.94" cy="610.00" r="2.1" fill="#f6c0cc" opacity="0.6"/>
<circle cx="67.94" cy="610.00" r="1.25" fill="#c01232"/>
<circle cx="75.74" cy="610.00" r="2.1" fill="#f6c0cc" opacity="0.6"/>
<circle cx="75.74" cy="610.00" r="1.25" fill="#c01232"/>
<circle cx="83.53" cy="610.00" r="2.1" fill="#f6c0cc" opacity="0.6"/>
<circle cx="83.53" cy="610.00" r="1.25" fill="#c01232"/>
<circle cx="91.33" cy="610.00" r="2.1" fill="#f6c0cc" opacity="0.6"/>
<circle cx="91.33" cy="610.00" r="1.25" fill="#c01232"/>
<circle cx="99.12" cy="610.00" r="2.1" fill="#f6c0cc" opacity="0.6"/>
<circle cx="99.12" cy="610.00" r="1.25" fill="#c01232"/>
<circle cx="106.92" cy="610.00" r="2.1" fill="#f6c0cc" opacity="0.6"/>
<circle cx="106.92" cy="610.00" r="1.25" fill="#c01232"/>
<circle cx="114.72" cy="610.00" r="2.1" fill="#f6c0cc" opacity="0.6"/>
<circle cx="114.72" cy="610.00" r="1.25" fill="#c01232"/>
<circle cx="122.51" cy="610.00" r="2.1" fill="#f6c0cc" opacity="0.6"/>
<circle cx="122.51" cy="610.00" r="1.25" fill="#c01232"/>
<circle cx="130.31" cy="610.00" r="2.1" fill="#f6c0cc" opacity="0.6"/>
<circle cx="130.31" cy="610.00" r="1.25" fill="#c01232"/>
<circle cx="138.10" cy="610.00" r="2.1" fill="#f6c0cc" opacity="0.6"/>
<circle cx="138.10" cy="610.00" r="1.25" fill="#c01232"/>
<circle cx="145.90" cy="610.00" r="2.1" fill="#f6c0cc" opacity="0.6"/>
<circle cx="145.90" cy="610.00" r="1.25" fill="#c01232"/>
<circle cx="153.70" cy="610.00" r="2.1" fill="#f6c0cc" opacity="0.6"/>
<circle cx="153.70" cy="610.00" r="1.25" fill="#c01232"/>
<circle cx="161.49" cy="610.00" r="2.1" fill="#f6c0cc" opacity="0.6"/>
<circle cx="161.49" cy="610.00" r="1.25" fill="#c01232"/>
<circle cx="169.29" cy="610.00" r="2.1" fill="#f6c0cc" opacity="0.6"/>
<circle cx="169.29" cy="610.00" r="1.25" fill="#c01232"/>
<circle cx="177.08" cy="610.00" r="2.1" fill="#f6c0cc" opacity="0.6"/>
<circle cx="177.08" cy="610.00" r="1.25" fill="#c01232"/>
<circle cx="184.88" cy="610.00" r="2.1" fill="#f6c0cc" opacity="0.6"/>
<circle cx="184.88" cy="610.00" r="1.25" fill="#c01232"/>
<circle cx="192.67" cy="610.00" r="2.1" fill="#f6c0cc" opacity="0.6"/>
<circle cx="192.67" cy="610.00" r="1.25" fill="#c01232"/>
<circle cx="200.47" cy="610.00" r="2.1" fill="#f6c0cc" opacity="0.6"/>
<circle cx="200.47" cy="610.00" r="1.25" fill="#c01232"/>
<circle cx="208.27" cy="610.00" r="2.1" fill="#f6c0cc" opacity="0.6"/>
<circle cx="208.27" cy="610.00" r="1.25" fill="#c01232"/>
<circle cx="216.06" cy="610.00" r="2.1" fill="#f6c0cc" opacity="0.6"/>
<circle cx="216.06" cy="610.00" r="1.25" fill="#c01232"/>
<circle cx="223.86" cy="610.00" r="2.1" fill="#f6c0cc" opacity="0.6"/>
<circle cx="223.86" cy="610.00" r="1.25" fill="#c01232"/>
<circle cx="231.65" cy="610.00" r="2.1" fill="#f6c0cc" opacity="0.6"/>
<circle cx="231.65" cy="610.00" r="1.25" fill="#c01232"/>
<circle cx="239.45" cy="610.00" r="2.1" fill="#f6c0cc" opacity="0.6"/>
<circle cx="239.45" cy="610.00" r="1.25" fill="#c01232"/>
<line x1="44.25" y1="497.95" x2="44.25" y2="628.30" stroke="#000" stroke-width="1.7"/>
<line x1="40.25" y1="498.75" x2="44.25" y2="498.75" stroke="#000" stroke-width="1.7"/>
<text x="31.41" y="502.85" font-size="10.1" text-anchor="end">10</text>
<text x="39.05" y="498.55" font-size="6.6" text-anchor="end">10</text>
<line x1="40.25" y1="524.50" x2="44.25" y2="524.50" stroke="#000" stroke-width="1.7"/>
<text x="35.08" y="528.60" font-size="10.1" text-anchor="end">10</text>
<text x="39.05" y="524.30" font-size="6.6" text-anchor="end">9</text>
<line x1="40.25" y1="550.25" x2="44.25" y2="550.25" stroke="#000" stroke-width="1.7"/>
<text x="35.08" y="554.35" font-size="10.1" text-anchor="end">10</text>
<text x="39.05" y="550.05" font-size="6.6" text-anchor="end">8</text>
<line x1="40.25" y1="576.00" x2="44.25" y2="576.00" stroke="#000" stroke-width="1.7"/>
<text x="35.08" y="580.10" font-size="10.1" text-anchor="end">10</text>
<text x="39.05" y="575.80" font-size="6.6" text-anchor="end">7</text>
<line x1="40.25" y1="601.75" x2="44.25" y2="601.75" stroke="#000" stroke-width="1.7"/>
<text x="35.08" y="605.85" font-size="10.1" text-anchor="end">10</text>
<text x="39.05" y="601.55" font-size="6.6" text-anchor="end">6</text>
<line x1="40.25" y1="627.50" x2="44.25" y2="627.50" stroke="#000" stroke-width="1.7"/>
<text x="35.08" y="631.60" font-size="10.1" text-anchor="end">10</text>
<text x="39.05" y="627.30" font-size="6.6" text-anchor="end">5</text>
<line x1="43.45" y1="627.50" x2="240.05" y2="627.50" stroke="#000" stroke-width="1.7"/>
<line x1="44.25" y1="627.50" x2="44.25" y2="631.50" stroke="#000" stroke-width="1.7"/>
<text x="44.25" y="643.30" font-size="10" text-anchor="middle" >0</text>
<line x1="63.75" y1="627.50" x2="63.75" y2="631.50" stroke="#000" stroke-width="1.7"/>
<text x="63.75" y="643.30" font-size="10" text-anchor="middle" >10</text>
<line x1="83.25" y1="627.50" x2="83.25" y2="631.50" stroke="#000" stroke-width="1.7"/>
<text x="83.25" y="643.30" font-size="10" text-anchor="middle" >20</text>
<line x1="102.75" y1="627.50" x2="102.75" y2="631.50" stroke="#000" stroke-width="1.7"/>
<text x="102.75" y="643.30" font-size="10" text-anchor="middle" >30</text>
<line x1="122.25" y1="627.50" x2="122.25" y2="631.50" stroke="#000" stroke-width="1.7"/>
<text x="122.25" y="643.30" font-size="10" text-anchor="middle" >40</text>
<line x1="141.75" y1="627.50" x2="141.75" y2="631.50" stroke="#000" stroke-width="1.7"/>
<text x="141.75" y="643.30" font-size="10" text-anchor="middle" >50</text>
<line x1="161.25" y1="627.50" x2="161.25" y2="631.50" stroke="#000" stroke-width="1.7"/>
<text x="161.25" y="643.30" font-size="10" text-anchor="middle" >60</text>
<line x1="180.75" y1="627.50" x2="180.75" y2="631.50" stroke="#000" stroke-width="1.7"/>
<text x="180.75" y="643.30" font-size="10" text-anchor="middle" >70</text>
<line x1="200.25" y1="627.50" x2="200.25" y2="631.50" stroke="#000" stroke-width="1.7"/>
<text x="200.25" y="643.30" font-size="10" text-anchor="middle" >80</text>
<line x1="219.75" y1="627.50" x2="219.75" y2="631.50" stroke="#000" stroke-width="1.7"/>
<text x="219.75" y="643.30" font-size="10" text-anchor="middle" >90</text>
<line x1="239.25" y1="627.50" x2="239.25" y2="631.50" stroke="#000" stroke-width="1.7"/>
<text x="239.25" y="643.30" font-size="10" text-anchor="middle" >100</text>
<text x="1.20" y="477.60" font-size="17" text-anchor="start" >D</text>
<text x="97.00" y="477.00" font-size="13.5" text-anchor="start" >Dasatinib q.d. 7/7</text>
<text x="0" y="0" font-size="12.7" text-anchor="middle" transform="translate(16.50,562.40) rotate(-90)">(photons/sec)</text>
<text x="141.75" y="657.50" font-size="12.25" text-anchor="middle" >Days post LIC injection</text>
<path d="M63.75,548.00 L77.40,580.00 L91.05,583.00 L104.70,579.00 L118.35,564.90 L132.00,539.20 L145.65,531.40 L157.35,515.00" fill="none" stroke="#000" stroke-width="1.7" stroke-linejoin="round"/>
<path d="M63.75,550.00 L77.40,583.00 L91.05,578.00 L104.70,570.00 L114.45,547.00 L132.00,539.20 L145.65,531.40 L161.25,519.30" fill="none" stroke="#000" stroke-width="1.7" stroke-linejoin="round"/>
<path d="M63.75,552.00 L77.40,568.00 L91.05,580.00 L104.70,557.00 L126.15,540.60 L145.65,539.20" fill="none" stroke="#000" stroke-width="1.7" stroke-linejoin="round"/>
<path d="M63.75,554.00 L77.40,585.00 L91.05,586.00 L104.70,567.70 L108.60,560.60 L132.00,558.50 L145.65,547.00" fill="none" stroke="#000" stroke-width="1.7" stroke-linejoin="round"/>
<path d="M63.75,556.00 L77.40,588.00 L91.05,590.00 L104.70,579.00 L118.35,574.80 L132.00,564.90 L145.65,549.00" fill="none" stroke="#000" stroke-width="1.7" stroke-linejoin="round"/>
<path d="M63.75,557.00 L77.40,593.00 L91.05,592.00 L104.70,582.00 L118.35,582.00 L132.00,570.60 L145.65,547.00" fill="none" stroke="#000" stroke-width="1.7" stroke-linejoin="round"/>
<path d="M63.75,556.00 L77.40,590.00 L91.05,596.00 L104.70,589.80 L118.35,589.10 L132.00,578.40 L145.65,561.30" fill="none" stroke="#000" stroke-width="1.7" stroke-linejoin="round"/>
<path d="M63.75,553.00 L77.40,586.00 L91.05,592.00 L104.70,585.00 L118.35,580.00 L132.00,570.00 L151.50,554.90" fill="none" stroke="#000" stroke-width="1.7" stroke-linejoin="round"/>
<path d="M63.75,555.00 L77.40,582.00 L91.05,584.00 L104.70,576.00 L118.35,570.00 L132.00,558.50 L145.65,539.20" fill="none" stroke="#000" stroke-width="1.7" stroke-linejoin="round"/>
<rect x="60.40" y="544.65" width="6.70" height="6.70" fill="#000"/>
<rect x="74.05" y="576.65" width="6.70" height="6.70" fill="#000"/>
<rect x="87.70" y="579.65" width="6.70" height="6.70" fill="#000"/>
<rect x="101.35" y="575.65" width="6.70" height="6.70" fill="#000"/>
<rect x="115.00" y="561.55" width="6.70" height="6.70" fill="#000"/>
<rect x="128.65" y="535.85" width="6.70" height="6.70" fill="#000"/>
<rect x="142.30" y="528.05" width="6.70" height="6.70" fill="#000"/>
<rect x="154.00" y="511.65" width="6.70" height="6.70" fill="#000"/>
<polygon points="63.75,547.00 67.35,552.90 60.15,552.90" fill="#000"/>
<polygon points="77.40,580.00 81.00,585.90 73.80,585.90" fill="#000"/>
<polygon points="91.05,575.00 94.65,580.90 87.45,580.90" fill="#000"/>
<polygon points="104.70,567.00 108.30,572.90 101.10,572.90" fill="#000"/>
<polygon points="114.45,544.00 118.05,549.90 110.85,549.90" fill="#000"/>
<polygon points="132.00,536.20 135.60,542.10 128.40,542.10" fill="#000"/>
<polygon points="145.65,528.40 149.25,534.30 142.05,534.30" fill="#000"/>
<polygon points="161.25,516.30 164.85,522.20 157.65,522.20" fill="#000"/>
<polygon points="63.75,555.00 67.35,549.10 60.15,549.10" fill="#000"/>
<polygon points="77.40,571.00 81.00,565.10 73.80,565.10" fill="#000"/>
<polygon points="91.05,583.00 94.65,577.10 87.45,577.10" fill="#000"/>
<polygon points="104.70,560.00 108.30,554.10 101.10,554.10" fill="#000"/>
<polygon points="126.15,543.60 129.75,537.70 122.55,537.70" fill="#000"/>
<polygon points="145.65,542.20 149.25,536.30 142.05,536.30" fill="#000"/>
<circle cx="63.75" cy="554.00" r="3.20" fill="#000"/>
<circle cx="77.40" cy="585.00" r="3.20" fill="#000"/>
<circle cx="91.05" cy="586.00" r="3.20" fill="#000"/>
<circle cx="104.70" cy="567.70" r="3.20" fill="#000"/>
<circle cx="108.60" cy="560.60" r="3.20" fill="#000"/>
<circle cx="132.00" cy="558.50" r="3.20" fill="#000"/>
<circle cx="145.65" cy="547.00" r="3.20" fill="#000"/>
<circle cx="63.75" cy="556.00" r="2.85" fill="none" stroke="#000" stroke-width="1.5"/>
<circle cx="77.40" cy="588.00" r="2.85" fill="none" stroke="#000" stroke-width="1.5"/>
<circle cx="91.05" cy="590.00" r="2.85" fill="none" stroke="#000" stroke-width="1.5"/>
<circle cx="104.70" cy="579.00" r="2.85" fill="none" stroke="#000" stroke-width="1.5"/>
<circle cx="118.35" cy="574.80" r="2.85" fill="none" stroke="#000" stroke-width="1.5"/>
<circle cx="132.00" cy="564.90" r="2.85" fill="none" stroke="#000" stroke-width="1.5"/>
<circle cx="145.65" cy="549.00" r="2.85" fill="none" stroke="#000" stroke-width="1.5"/>
<rect x="61.15" y="554.40" width="5.20" height="5.20" fill="none" stroke="#000" stroke-width="1.5"/>
<rect x="74.80" y="590.40" width="5.20" height="5.20" fill="none" stroke="#000" stroke-width="1.5"/>
<rect x="88.45" y="589.40" width="5.20" height="5.20" fill="none" stroke="#000" stroke-width="1.5"/>
<rect x="102.10" y="579.40" width="5.20" height="5.20" fill="none" stroke="#000" stroke-width="1.5"/>
<rect x="115.75" y="579.40" width="5.20" height="5.20" fill="none" stroke="#000" stroke-width="1.5"/>
<rect x="129.40" y="568.00" width="5.20" height="5.20" fill="none" stroke="#000" stroke-width="1.5"/>
<rect x="143.05" y="544.40" width="5.20" height="5.20" fill="none" stroke="#000" stroke-width="1.5"/>
<polygon points="63.75,551.80 67.95,556.00 63.75,560.20 59.55,556.00" fill="#000"/>
<polygon points="77.40,585.80 81.60,590.00 77.40,594.20 73.20,590.00" fill="#000"/>
<polygon points="91.05,591.80 95.25,596.00 91.05,600.20 86.85,596.00" fill="#000"/>
<polygon points="104.70,585.60 108.90,589.80 104.70,594.00 100.50,589.80" fill="#000"/>
<polygon points="118.35,584.90 122.55,589.10 118.35,593.30 114.15,589.10" fill="#000"/>
<polygon points="132.00,574.20 136.20,578.40 132.00,582.60 127.80,578.40" fill="#000"/>
<polygon points="145.65,557.10 149.85,561.30 145.65,565.50 141.45,561.30" fill="#000"/>
<polygon points="63.75,548.80 67.95,553.00 63.75,557.20 59.55,553.00" fill="#000"/>
<polygon points="77.40,581.80 81.60,586.00 77.40,590.20 73.20,586.00" fill="#000"/>
<polygon points="91.05,587.80 95.25,592.00 91.05,596.20 86.85,592.00" fill="#000"/>
<polygon points="104.70,580.80 108.90,585.00 104.70,589.20 100.50,585.00" fill="#000"/>
<polygon points="118.35,575.80 122.55,580.00 118.35,584.20 114.15,580.00" fill="#000"/>
<polygon points="132.00,565.80 136.20,570.00 132.00,574.20 127.80,570.00" fill="#000"/>
<polygon points="151.50,550.70 155.70,554.90 151.50,559.10 147.30,554.90" fill="#000"/>
<polygon points="63.75,558.00 67.35,552.10 60.15,552.10" fill="none" stroke="#000" stroke-width="1.5" stroke-linejoin="round"/>
<polygon points="77.40,585.00 81.00,579.10 73.80,579.10" fill="none" stroke="#000" stroke-width="1.5" stroke-linejoin="round"/>
<polygon points="91.05,587.00 94.65,581.10 87.45,581.10" fill="none" stroke="#000" stroke-width="1.5" stroke-linejoin="round"/>
<polygon points="104.70,579.00 108.30,573.10 101.10,573.10" fill="none" stroke="#000" stroke-width="1.5" stroke-linejoin="round"/>
<polygon points="118.35,573.00 121.95,567.10 114.75,567.10" fill="none" stroke="#000" stroke-width="1.5" stroke-linejoin="round"/>
<polygon points="132.00,561.50 135.60,555.60 128.40,555.60" fill="none" stroke="#000" stroke-width="1.5" stroke-linejoin="round"/>
<polygon points="145.65,542.20 149.25,536.30 142.05,536.30" fill="none" stroke="#000" stroke-width="1.5" stroke-linejoin="round"/>
<rect x="335.9" y="501" width="78.90000000000003" height="128.5" fill="url(#dotpat)"/>
<circle cx="324.35" cy="611.50" r="2.1" fill="#f6c0cc" opacity="0.6"/>
<circle cx="324.35" cy="611.50" r="1.25" fill="#c01232"/>
<circle cx="332.04" cy="611.50" r="2.1" fill="#f6c0cc" opacity="0.6"/>
<circle cx="332.04" cy="611.50" r="1.25" fill="#c01232"/>
<circle cx="339.73" cy="611.50" r="2.1" fill="#f6c0cc" opacity="0.6"/>
<circle cx="339.73" cy="611.50" r="1.25" fill="#c01232"/>
<circle cx="347.43" cy="611.50" r="2.1" fill="#f6c0cc" opacity="0.6"/>
<circle cx="347.43" cy="611.50" r="1.25" fill="#c01232"/>
<circle cx="355.12" cy="611.50" r="2.1" fill="#f6c0cc" opacity="0.6"/>
<circle cx="355.12" cy="611.50" r="1.25" fill="#c01232"/>
<circle cx="362.81" cy="611.50" r="2.1" fill="#f6c0cc" opacity="0.6"/>
<circle cx="362.81" cy="611.50" r="1.25" fill="#c01232"/>
<circle cx="370.50" cy="611.50" r="2.1" fill="#f6c0cc" opacity="0.6"/>
<circle cx="370.50" cy="611.50" r="1.25" fill="#c01232"/>
<circle cx="378.19" cy="611.50" r="2.1" fill="#f6c0cc" opacity="0.6"/>
<circle cx="378.19" cy="611.50" r="1.25" fill="#c01232"/>
<circle cx="385.88" cy="611.50" r="2.1" fill="#f6c0cc" opacity="0.6"/>
<circle cx="385.88" cy="611.50" r="1.25" fill="#c01232"/>
<circle cx="393.57" cy="611.50" r="2.1" fill="#f6c0cc" opacity="0.6"/>
<circle cx="393.57" cy="611.50" r="1.25" fill="#c01232"/>
<circle cx="401.27" cy="611.50" r="2.1" fill="#f6c0cc" opacity="0.6"/>
<circle cx="401.27" cy="611.50" r="1.25" fill="#c01232"/>
<circle cx="408.96" cy="611.50" r="2.1" fill="#f6c0cc" opacity="0.6"/>
<circle cx="408.96" cy="611.50" r="1.25" fill="#c01232"/>
<circle cx="416.65" cy="611.50" r="2.1" fill="#f6c0cc" opacity="0.6"/>
<circle cx="416.65" cy="611.50" r="1.25" fill="#c01232"/>
<circle cx="424.34" cy="611.50" r="2.1" fill="#f6c0cc" opacity="0.6"/>
<circle cx="424.34" cy="611.50" r="1.25" fill="#c01232"/>
<circle cx="432.03" cy="611.50" r="2.1" fill="#f6c0cc" opacity="0.6"/>
<circle cx="432.03" cy="611.50" r="1.25" fill="#c01232"/>
<circle cx="439.73" cy="611.50" r="2.1" fill="#f6c0cc" opacity="0.6"/>
<circle cx="439.73" cy="611.50" r="1.25" fill="#c01232"/>
<circle cx="447.42" cy="611.50" r="2.1" fill="#f6c0cc" opacity="0.6"/>
<circle cx="447.42" cy="611.50" r="1.25" fill="#c01232"/>
<circle cx="455.11" cy="611.50" r="2.1" fill="#f6c0cc" opacity="0.6"/>
<circle cx="455.11" cy="611.50" r="1.25" fill="#c01232"/>
<circle cx="462.80" cy="611.50" r="2.1" fill="#f6c0cc" opacity="0.6"/>
<circle cx="462.80" cy="611.50" r="1.25" fill="#c01232"/>
<circle cx="470.49" cy="611.50" r="2.1" fill="#f6c0cc" opacity="0.6"/>
<circle cx="470.49" cy="611.50" r="1.25" fill="#c01232"/>
<circle cx="478.18" cy="611.50" r="2.1" fill="#f6c0cc" opacity="0.6"/>
<circle cx="478.18" cy="611.50" r="1.25" fill="#c01232"/>
<circle cx="485.88" cy="611.50" r="2.1" fill="#f6c0cc" opacity="0.6"/>
<circle cx="485.88" cy="611.50" r="1.25" fill="#c01232"/>
<circle cx="493.57" cy="611.50" r="2.1" fill="#f6c0cc" opacity="0.6"/>
<circle cx="493.57" cy="611.50" r="1.25" fill="#c01232"/>
<circle cx="501.26" cy="611.50" r="2.1" fill="#f6c0cc" opacity="0.6"/>
<circle cx="501.26" cy="611.50" r="1.25" fill="#c01232"/>
<circle cx="508.95" cy="611.50" r="2.1" fill="#f6c0cc" opacity="0.6"/>
<circle cx="508.95" cy="611.50" r="1.25" fill="#c01232"/>
<line x1="316.25" y1="499.95" x2="316.25" y2="630.30" stroke="#000" stroke-width="1.7"/>
<line x1="312.25" y1="500.75" x2="316.25" y2="500.75" stroke="#000" stroke-width="1.7"/>
<text x="303.41" y="504.85" font-size="10.1" text-anchor="end">10</text>
<text x="311.05" y="500.55" font-size="6.6" text-anchor="end">10</text>
<line x1="312.25" y1="526.50" x2="316.25" y2="526.50" stroke="#000" stroke-width="1.7"/>
<text x="307.08" y="530.60" font-size="10.1" text-anchor="end">10</text>
<text x="311.05" y="526.30" font-size="6.6" text-anchor="end">9</text>
<line x1="312.25" y1="552.25" x2="316.25" y2="552.25" stroke="#000" stroke-width="1.7"/>
<text x="307.08" y="556.35" font-size="10.1" text-anchor="end">10</text>
<text x="311.05" y="552.05" font-size="6.6" text-anchor="end">8</text>
<line x1="312.25" y1="578.00" x2="316.25" y2="578.00" stroke="#000" stroke-width="1.7"/>
<text x="307.08" y="582.10" font-size="10.1" text-anchor="end">10</text>
<text x="311.05" y="577.80" font-size="6.6" text-anchor="end">7</text>
<line x1="312.25" y1="603.75" x2="316.25" y2="603.75" stroke="#000" stroke-width="1.7"/>
<text x="307.08" y="607.85" font-size="10.1" text-anchor="end">10</text>
<text x="311.05" y="603.55" font-size="6.6" text-anchor="end">6</text>
<line x1="312.25" y1="629.50" x2="316.25" y2="629.50" stroke="#000" stroke-width="1.7"/>
<text x="307.08" y="633.60" font-size="10.1" text-anchor="end">10</text>
<text x="311.05" y="629.30" font-size="6.6" text-anchor="end">5</text>
<line x1="315.45" y1="629.50" x2="509.55" y2="629.50" stroke="#000" stroke-width="1.7"/>
<line x1="316.25" y1="629.50" x2="316.25" y2="633.50" stroke="#000" stroke-width="1.7"/>
<text x="316.25" y="645.30" font-size="10" text-anchor="middle" >0</text>
<line x1="335.50" y1="629.50" x2="335.50" y2="633.50" stroke="#000" stroke-width="1.7"/>
<text x="335.50" y="645.30" font-size="10" text-anchor="middle" >10</text>
<line x1="354.75" y1="629.50" x2="354.75" y2="633.50" stroke="#000" stroke-width="1.7"/>
<text x="354.75" y="645.30" font-size="10" text-anchor="middle" >20</text>
<line x1="374.00" y1="629.50" x2="374.00" y2="633.50" stroke="#000" stroke-width="1.7"/>
<text x="374.00" y="645.30" font-size="10" text-anchor="middle" >30</text>
<line x1="393.25" y1="629.50" x2="393.25" y2="633.50" stroke="#000" stroke-width="1.7"/>
<text x="393.25" y="645.30" font-size="10" text-anchor="middle" >40</text>
<line x1="412.50" y1="629.50" x2="412.50" y2="633.50" stroke="#000" stroke-width="1.7"/>
<text x="412.50" y="645.30" font-size="10" text-anchor="middle" >50</text>
<line x1="431.75" y1="629.50" x2="431.75" y2="633.50" stroke="#000" stroke-width="1.7"/>
<text x="431.75" y="645.30" font-size="10" text-anchor="middle" >60</text>
<line x1="451.00" y1="629.50" x2="451.00" y2="633.50" stroke="#000" stroke-width="1.7"/>
<text x="451.00" y="645.30" font-size="10" text-anchor="middle" >70</text>
<line x1="470.25" y1="629.50" x2="470.25" y2="633.50" stroke="#000" stroke-width="1.7"/>
<text x="470.25" y="645.30" font-size="10" text-anchor="middle" >80</text>
<line x1="489.50" y1="629.50" x2="489.50" y2="633.50" stroke="#000" stroke-width="1.7"/>
<text x="489.50" y="645.30" font-size="10" text-anchor="middle" >90</text>
<line x1="508.75" y1="629.50" x2="508.75" y2="633.50" stroke="#000" stroke-width="1.7"/>
<text x="508.75" y="645.30" font-size="10" text-anchor="middle" >100</text>
<text x="277.80" y="475.60" font-size="17" text-anchor="start" >E</text>
<text x="367.50" y="476.60" font-size="13.5" text-anchor="start" >Dasatinib q.d. 5/7</text>
<text x="0" y="0" font-size="12.7" text-anchor="middle" transform="translate(289.10,565.30) rotate(-90)">(photons/sec)</text>
<text x="412.50" y="659.50" font-size="12.25" text-anchor="middle" >Days post LIC injection</text>
<path d="M335.50,550.00 L348.98,585.00 L362.45,570.00 L375.93,556.25 L389.40,541.90" fill="none" stroke="#000" stroke-width="1.7" stroke-linejoin="round"/>
<path d="M335.50,552.00 L348.98,583.00 L362.45,551.90 L375.93,545.60 L379.77,541.90" fill="none" stroke="#000" stroke-width="1.7" stroke-linejoin="round"/>
<path d="M335.50,555.00 L348.98,588.00 L362.45,554.00 L375.93,569.40" fill="none" stroke="#000" stroke-width="1.7" stroke-linejoin="round"/>
<path d="M335.50,558.00 L348.98,590.00 L362.45,572.00 L375.93,576.00 L389.40,576.25 L402.88,558.50 L416.35,537.00" fill="none" stroke="#000" stroke-width="1.7" stroke-linejoin="round"/>
<path d="M335.50,560.00 L348.98,591.00 L362.45,574.00 L375.93,577.00 L389.40,575.00" fill="none" stroke="#000" stroke-width="1.7" stroke-linejoin="round"/>
<path d="M335.50,567.50 L348.98,591.90 L362.45,578.00 L375.93,578.10 L389.40,577.00" fill="none" stroke="#000" stroke-width="1.7" stroke-linejoin="round"/>
<path d="M335.50,561.00 L348.98,589.00 L362.45,568.00 L375.93,572.00" fill="none" stroke="#000" stroke-width="1.7" stroke-linejoin="round"/>
<rect x="332.15" y="546.65" width="6.70" height="6.70" fill="#000"/>
<rect x="345.62" y="581.65" width="6.70" height="6.70" fill="#000"/>
<rect x="359.10" y="566.65" width="6.70" height="6.70" fill="#000"/>
<rect x="372.57" y="552.90" width="6.70" height="6.70" fill="#000"/>
<rect x="386.05" y="538.55" width="6.70" height="6.70" fill="#000"/>
<polygon points="335.50,555.00 339.10,549.10 331.90,549.10" fill="#000"/>
<polygon points="348.98,586.00 352.58,580.10 345.38,580.10" fill="#000"/>
<polygon points="362.45,554.90 366.05,549.00 358.85,549.00" fill="#000"/>
<polygon points="375.93,548.60 379.53,542.70 372.32,542.70" fill="#000"/>
<polygon points="379.77,544.90 383.38,539.00 376.17,539.00" fill="#000"/>
<circle cx="335.50" cy="555.00" r="3.20" fill="#000"/>
<circle cx="348.98" cy="588.00" r="3.20" fill="#000"/>
<circle cx="362.45" cy="554.00" r="3.20" fill="#000"/>
<circle cx="375.93" cy="569.40" r="3.20" fill="#000"/>
<circle cx="335.50" cy="558.00" r="2.85" fill="none" stroke="#000" stroke-width="1.5"/>
<circle cx="348.98" cy="590.00" r="2.85" fill="none" stroke="#000" stroke-width="1.5"/>
<circle cx="362.45" cy="572.00" r="2.85" fill="none" stroke="#000" stroke-width="1.5"/>
<circle cx="375.93" cy="576.00" r="2.85" fill="none" stroke="#000" stroke-width="1.5"/>
<circle cx="389.40" cy="576.25" r="2.85" fill="none" stroke="#000" stroke-width="1.5"/>
<circle cx="402.88" cy="558.50" r="2.85" fill="none" stroke="#000" stroke-width="1.5"/>
<circle cx="416.35" cy="537.00" r="2.85" fill="none" stroke="#000" stroke-width="1.5"/>
<polygon points="335.50,557.00 339.10,562.90 331.90,562.90" fill="none" stroke="#000" stroke-width="1.5" stroke-linejoin="round"/>
<polygon points="348.98,588.00 352.58,593.90 345.38,593.90" fill="none" stroke="#000" stroke-width="1.5" stroke-linejoin="round"/>
<polygon points="362.45,571.00 366.05,576.90 358.85,576.90" fill="none" stroke="#000" stroke-width="1.5" stroke-linejoin="round"/>
<polygon points="375.93,574.00 379.53,579.90 372.32,579.90" fill="none" stroke="#000" stroke-width="1.5" stroke-linejoin="round"/>
<polygon points="389.40,572.00 393.00,577.90 385.80,577.90" fill="none" stroke="#000" stroke-width="1.5" stroke-linejoin="round"/>
<rect x="332.15" y="564.15" width="6.70" height="6.70" fill="#000"/>
<rect x="345.62" y="588.55" width="6.70" height="6.70" fill="#000"/>
<rect x="359.10" y="574.65" width="6.70" height="6.70" fill="#000"/>
<rect x="372.57" y="574.75" width="6.70" height="6.70" fill="#000"/>
<rect x="386.05" y="573.65" width="6.70" height="6.70" fill="#000"/>
<polygon points="335.50,558.00 339.10,563.90 331.90,563.90" fill="#000"/>
<polygon points="348.98,586.00 352.58,591.90 345.38,591.90" fill="#000"/>
<polygon points="362.45,565.00 366.05,570.90 358.85,570.90" fill="#000"/>
<polygon points="375.93,569.00 379.53,574.90 372.32,574.90" fill="#000"/>
<defs>
<filter id="bl1" x="-30%" y="-10%" width="160%" height="120%"><feGaussianBlur stdDeviation="0.6"/></filter>
<filter id="bl2" x="-50%" y="-50%" width="200%" height="200%"><feGaussianBlur stdDeviation="0.45"/></filter>
<filter id="blbg" x="0" y="0" width="100%" height="100%"><feGaussianBlur stdDeviation="0.5"/></filter>
<linearGradient id="bgB1" x1="0" y1="0" x2="0" y2="1">
 <stop offset="0" stop-color="#262626"/><stop offset="0.03" stop-color="#3a3a3a"/><stop offset="0.4" stop-color="#454545"/><stop offset="0.55" stop-color="#5e5e5e"/><stop offset="0.7" stop-color="#6c6c6c"/><stop offset="1" stop-color="#747474"/></linearGradient>
<linearGradient id="bgB2" x1="0" y1="0" x2="0" y2="1">
 <stop offset="0" stop-color="#333"/><stop offset="0.04" stop-color="#4a4a4a"/><stop offset="0.45" stop-color="#555"/><stop offset="0.55" stop-color="#828282"/><stop offset="1" stop-color="#8e8e8e"/></linearGradient>
<linearGradient id="bgE2" x1="0" y1="0" x2="0" y2="1">
 <stop offset="0" stop-color="#2e2e2e"/><stop offset="0.04" stop-color="#444"/><stop offset="0.45" stop-color="#505050"/><stop offset="0.6" stop-color="#707070"/><stop offset="1" stop-color="#7c7c7c"/></linearGradient>
<linearGradient id="stripes" x1="0" y1="0" x2="1" y2="0">
 <stop offset="0" stop-color="#000" stop-opacity="0.25"/><stop offset="0.12" stop-color="#000" stop-opacity="0"/><stop offset="0.25" stop-color="#fff" stop-opacity="0.10"/><stop offset="0.4" stop-color="#000" stop-opacity="0.08"/><stop offset="0.6" stop-color="#000" stop-opacity="0"/><stop offset="0.75" stop-color="#fff" stop-opacity="0.08"/><stop offset="0.88" stop-color="#000" stop-opacity="0.05"/><stop offset="1" stop-color="#000" stop-opacity="0.25"/></linearGradient>
<linearGradient id="tailB1" x1="0" y1="0" x2="0" y2="1">
 <stop offset="0" stop-color="#40c8ff"/><stop offset="0.25" stop-color="#2a70ff"/><stop offset="1" stop-color="#3018e0"/></linearGradient>
<linearGradient id="tailE1" x1="0" y1="0" x2="0" y2="1">
 <stop offset="0" stop-color="#40e0a0"/><stop offset="0.35" stop-color="#28b8f0"/><stop offset="0.75" stop-color="#2a50f0"/><stop offset="1" stop-color="#3018e0"/></linearGradient>
</defs>
<rect x="57.7" y="223" width="21.50" height="83.20" fill="url(#bgB1)"/>
<rect x="57.7" y="223" width="21.50" height="83.20" fill="url(#stripes)"/>
<g filter="url(#bl1)">
<path d="M70.8,225 C72,227 73,230 73.8,233.5 C75.5,235 76.8,237 76.8,239.5 C76.3,242 75.3,244 75,247 C75,250 75.2,253 75.8,256 C77.5,257.5 79,259.5 79,262.5 C79,265 78.5,267 77,268 C75,268 73.5,267.5 72,268 L70.9,304 L69.6,304 L68.6,268 C66,268 62,269.5 59,269.5 C58,267 58,263 59.5,260.5 C61.5,258.5 64,257.5 65.3,256 C66,253 66,250 66,247 C65.5,244 64.3,241.5 64,239 C64.5,236.5 66.5,235 67.6,233.5 C68.5,230 69.5,227 70.8,225 Z" fill="#2418ec"/>
<path d="M66.8,244 C69,243 72.5,243 74.5,245 C74.8,249 74.8,253 74,256 C71,257.5 68.5,257.5 66.8,256 C66.3,252 66.3,248 66.8,244 Z" fill="#5a1ed8"/>
<path d="M65,258 C69,256.5 72,256.5 76,258 C75,263 73,266 70.5,266.5 C68,266 66,263 65,258 Z" fill="#4a20e0"/>
<ellipse cx="70.9" cy="230" rx="1.6" ry="3.2" fill="#38c8ff"/>
<ellipse cx="70.9" cy="236.5" rx="1.0" ry="2.2" fill="#40d0ff"/>
<ellipse cx="66.6" cy="239.8" rx="1.5" ry="1.4" fill="#30b8ff"/>
<ellipse cx="74.6" cy="240" rx="1.5" ry="1.4" fill="#30b8ff"/>
<ellipse cx="70.6" cy="244" rx="0.7" ry="2.2" fill="#3a8cff"/>
<ellipse cx="68.5" cy="251" rx="1.0" ry="1.2" fill="#4060ff"/>
<ellipse cx="73" cy="252" rx="1.0" ry="1.2" fill="#4060ff"/>
<path d="M63.5,259.5 C60.5,260 59.5,263 60.5,266" fill="none" stroke="#30d0f0" stroke-width="1.6"/>
<path d="M75.5,259 C78,259.5 78.8,262.5 77.8,266" fill="none" stroke="#30e0d0" stroke-width="1.6"/>
<ellipse cx="59.8" cy="267" rx="1.2" ry="0.9" fill="#f03020"/>
<ellipse cx="61" cy="266" rx="0.9" ry="0.8" fill="#f0e030"/>
<ellipse cx="62.2" cy="267.3" rx="0.9" ry="0.8" fill="#40e060"/>
<ellipse cx="77.8" cy="266.5" rx="1.0" ry="0.8" fill="#40f0a0"/>
<path d="M68.9,268 L71.8,268 L70.8,304 L69.7,304 Z" fill="url(#tailB1)"/>
</g>
<ellipse cx="70.8" cy="224.6" rx="0.8" ry="1.5" fill="#f4f0ff" filter="url(#bl2)"/>
<rect x="88.3" y="262.3" width="20.50" height="83.20" fill="url(#bgB2)"/>
<rect x="88.3" y="262.3" width="20.50" height="83.20" fill="url(#stripes)"/>
<g filter="url(#bl1)">
<path d="M98.5,264 C100.5,267 103,271 104,276 C106,284 106,294 106.5,303 L90.5,303 C91,294 91,284 93,276 C94,271 96.5,267 98.5,264 Z" fill="#6a6a6a"/>
<ellipse cx="98.5" cy="288" rx="5" ry="10" fill="#7c7c7c"/>
<ellipse cx="95.5" cy="296" rx="1.6" ry="3" fill="#555"/>
<ellipse cx="102" cy="283" rx="1.4" ry="3" fill="#5a5a5a"/>
<ellipse cx="93.6" cy="277.8" rx="1.0" ry="1.6" fill="#d8d8c8"/>
<ellipse cx="103.6" cy="277.8" rx="1.0" ry="1.6" fill="#d8d8c8"/>
<ellipse cx="97" cy="284" rx="1.2" ry="2.5" fill="#9090a8"/>
<ellipse cx="100.5" cy="291" rx="1.2" ry="2" fill="#8a8aa0"/>
<ellipse cx="91.2" cy="302.5" rx="1.1" ry="1.6" fill="#e8e8e8"/>
<ellipse cx="98.2" cy="302.8" rx="1.2" ry="1.6" fill="#e0e0e0"/>
<ellipse cx="105.8" cy="302.8" rx="1.1" ry="1.6" fill="#e8e8e8"/>
<ellipse cx="98.3" cy="273" rx="3.8" ry="1.7" fill="#2c18e4"/>
<ellipse cx="89.7" cy="305.2" rx="1.4" ry="1.6" fill="#4028e0"/>
<ellipse cx="107.3" cy="305.2" rx="1.2" ry="1.5" fill="#5040e0"/>
<path d="M96.2,307 C97,305.5 99.6,305.5 100.4,307 L99,337 L97.8,337 Z" fill="#3018e4"/>
</g>
<ellipse cx="98.6" cy="266" rx="0.9" ry="2.4" fill="#f4f4f4" filter="url(#bl2)"/>
<rect x="317.9" y="467.1" width="21.30" height="80.70" fill="url(#bgB1)"/>
<rect x="317.9" y="467.1" width="21.30" height="80.70" fill="url(#stripes)"/>
<g filter="url(#bl1)">
<path d="M326,469 C327.5,471 328.5,474 329,477.5 C331,478.5 333.5,480 334,482 C333.5,484 331,485 330,487 C330.5,490 331.5,493 333,495.5 C335.5,497 337,499 337,502 C336.5,505 335,508 333,509.5 C331,510 329.5,510.5 328.5,511 L327.8,545 L326.4,545 L325.5,511 C324,510.5 322,510 320.5,509 C318.5,506 318.5,501 320,498 C321,496.5 322,495 322.5,493 C322.5,490 322.5,488 321.5,486.5 C320,485 319,483.5 319.5,481.5 C320.5,480 322.5,478.5 323.5,477.5 C324,474 324.8,471 326,469 Z" fill="#2418ec"/>
<path d="M322.5,487 C325,485.5 329,485.5 331,487.5 C331.5,491 331,494 329,495.5 C326.5,496.5 324,495.5 323,493.5 C322.5,491 322.3,489 322.5,487 Z" fill="#5a1ed8"/>
<ellipse cx="325.9" cy="474.5" rx="1.5" ry="3.2" fill="#38e0b8"/>
<ellipse cx="326.3" cy="480.5" rx="1.1" ry="2.2" fill="#38d0ff"/>
<ellipse cx="322" cy="481.8" rx="1.4" ry="1.2" fill="#40c0ff"/>
<ellipse cx="332.3" cy="481.8" rx="1.4" ry="1.2" fill="#40c0ff"/>
<path d="M326,478 C326.5,483 328.5,488 329.6,494" fill="none" stroke="#40d8f8" stroke-width="2.2" stroke-linecap="round"/>
<ellipse cx="327.5" cy="490" rx="1.2" ry="2" fill="#40d0ff"/>
<ellipse cx="329.5" cy="493" rx="1.0" ry="1.0" fill="#40c8ff"/>
<ellipse cx="321.3" cy="503.5" rx="2.8" ry="3.4" fill="#40d890"/>
<ellipse cx="321.2" cy="503.6" rx="2.1" ry="2.5" fill="#f0c020"/>
<ellipse cx="320.8" cy="504" rx="1.5" ry="2.0" fill="#ee2010"/>
<ellipse cx="322.6" cy="501.8" rx="0.9" ry="1.0" fill="#f4e020"/>
<ellipse cx="334.2" cy="500.8" rx="2.0" ry="2.4" fill="#60e050"/>
<ellipse cx="334.7" cy="500.3" rx="1.0" ry="1.2" fill="#f0d020"/>
<ellipse cx="335.5" cy="503.6" rx="0.8" ry="0.8" fill="#e03030"/>
<ellipse cx="319.8" cy="510" rx="1.0" ry="1.0" fill="#60d0e0"/>
<path d="M325.3,511 L329,511 L327.7,545 L326.5,545 Z" fill="url(#tailE1)"/>
</g>
<ellipse cx="326" cy="468.5" rx="0.8" ry="1.5" fill="#f0f0ff" filter="url(#bl2)"/>
<rect x="340.9" y="478.9" width="20.20" height="80.30" fill="url(#bgE2)"/>
<rect x="340.9" y="478.9" width="20.20" height="80.30" fill="url(#stripes)"/>
<g filter="url(#bl1)">
<path d="M350.3,481 C351.8,484 353.5,488 354.5,490.5 C356,492 357.3,494 356.5,496 C354,498 347,498 344.5,496 C343.5,494 345,492 346.3,490.5 C347.3,488 348.8,484 350.3,481 Z" fill="#3018e4"/>
<ellipse cx="348.5" cy="494.5" rx="1.3" ry="1.2" fill="#8060e8"/>
<ellipse cx="355" cy="494.5" rx="1.2" ry="1.2" fill="#8060e8"/>
<ellipse cx="349.8" cy="487.8" rx="2.0" ry="1.3" fill="#30c8ff"/>
<ellipse cx="350.2" cy="500.5" rx="1.4" ry="1.2" fill="#9888c8"/>
<path d="M342,510 C344,508.5 347,509.5 347.5,512 C347.5,515 346,518 344,520.5 C342.5,521.5 341.2,520 341.3,518 C341.5,515 341.5,512 342,510 Z" fill="#3420e4"/>
<path d="M359.5,510 C357.5,508.5 354.5,509.5 354,512 C354,515 355.5,518 357.5,520.5 C359,521.5 360.5,520 360.3,518 C360.2,515 360,512 359.5,510 Z" fill="#3420e4"/>
<ellipse cx="342.5" cy="518.5" rx="1.3" ry="1.5" fill="#9080f0"/>
<ellipse cx="358.5" cy="518" rx="1.1" ry="1.3" fill="#8878f0"/>
<ellipse cx="350.6" cy="518.3" rx="1.2" ry="1.2" fill="#b8b0d0"/>
<path d="M348.2,521 C349,519.8 350.6,519.8 351.2,521 L350.2,553 L349.2,553 Z" fill="#3018e8"/>
</g>
<ellipse cx="350.3" cy="480.2" rx="0.8" ry="1.3" fill="#f0f0ff" filter="url(#bl2)"/>
</svg>
</body></html>
